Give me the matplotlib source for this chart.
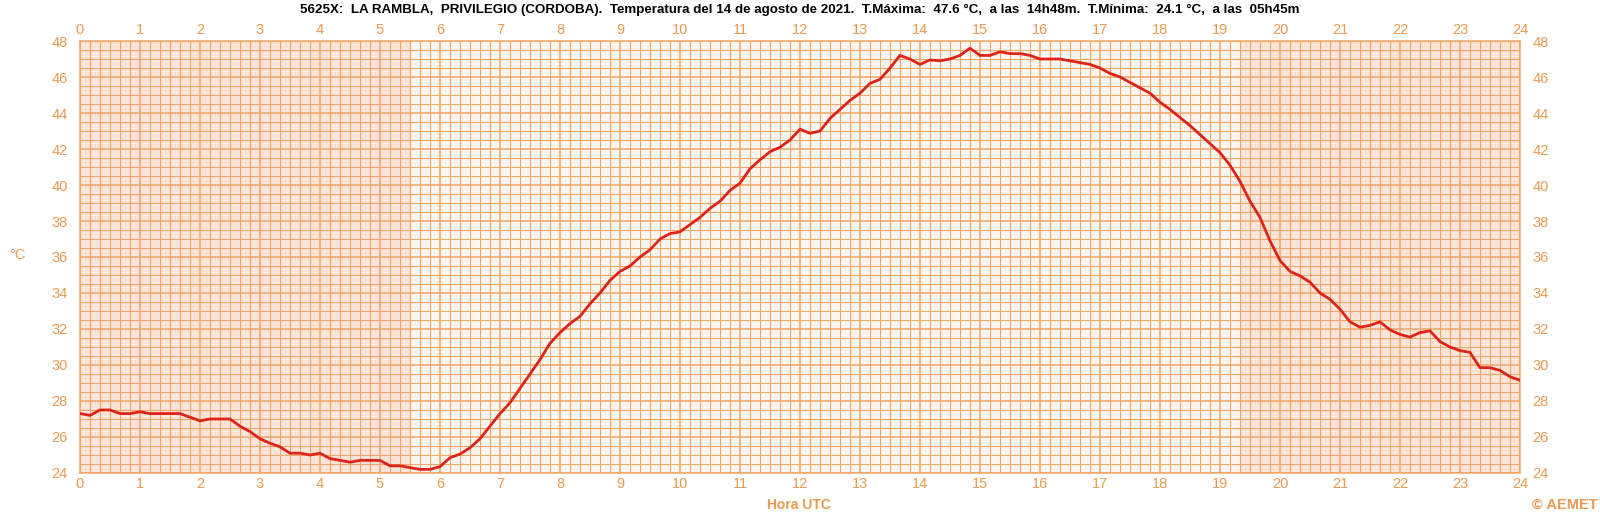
"""Temperatura diaria AEMET - 5625X La Rambla"""

import numpy as np
import matplotlib
matplotlib.use("Agg")
import matplotlib.pyplot as plt
from matplotlib.ticker import MultipleLocator

plt.rcParams['font.family'] = ['Liberation Sans', 'DejaVu Sans']

# 10-minute temperatures, 00:00 .. 24:00 UTC
temps = [
    27.3, 27.2, 27.5, 27.5, 27.3, 27.3,
    27.4, 27.3, 27.3, 27.3, 27.3, 27.1,
    26.9, 27.0, 27.0, 27.0, 26.6, 26.3,
    25.9, 25.65, 25.45, 25.1, 25.1, 25.0,
    25.1, 24.8, 24.7, 24.6, 24.7, 24.7,
    24.7, 24.4, 24.4, 24.3, 24.2, 24.2,
    24.35, 24.85, 25.05, 25.4, 25.9, 26.6,
    27.3, 27.9, 28.7, 29.5, 30.3, 31.2,
    31.8, 32.3, 32.7, 33.4, 34.0, 34.7,
    35.2, 35.5, 36.0, 36.4, 37.0, 37.3,
    37.4, 37.8, 38.2, 38.7, 39.1, 39.7,
    40.1, 40.9, 41.4, 41.85, 42.1, 42.5,
    43.1, 42.87, 43.0, 43.7, 44.2, 44.7,
    45.1, 45.65, 45.87, 46.5, 47.2, 47.0,
    46.7, 46.95, 46.9, 47.0, 47.2, 47.6,
    47.2, 47.2, 47.4, 47.3, 47.3, 47.2,
    47.0, 47.0, 47.0, 46.9, 46.8, 46.7,
    46.5, 46.2, 46.0, 45.7, 45.4, 45.1,
    44.6, 44.2, 43.75, 43.3, 42.8, 42.3,
    41.8, 41.1, 40.2, 39.1, 38.2, 36.9,
    35.8, 35.2, 34.95, 34.6, 34.0, 33.65,
    33.1, 32.4, 32.1, 32.2, 32.4, 31.95,
    31.7, 31.55, 31.8, 31.9, 31.3, 31.0,
    30.8, 30.7, 29.85, 29.85, 29.7, 29.35,
    29.15,
]
hours = np.arange(len(temps)) / 6.0

# night periods (before sunrise / after sunset), hours UTC
night_spans = [(0, 5.5), (19.35, 24)]

title = ("5625X:  LA RAMBLA,  PRIVILEGIO (CORDOBA).  Temperatura del 14 de agosto de 2021.  "
         "T.Máxima:  47.6 °C,  a las  14h48m.  T.Mínima:  24.1 °C,  a las  05h45m")

grid_col = '#f0a667'
label_col = '#e89a52'

fig = plt.figure(figsize=(16, 5.14), dpi=100)
ax = fig.add_axes([0.05, 0.0798, 0.90, 0.8404])
ax.set_facecolor('#fdf5ef')
for a, b in night_spans:
    ax.axvspan(a, b, color='#fbe3d7', zorder=0, lw=0)

ax.set_xlim(0, 24)
ax.set_ylim(24, 48)
ax.xaxis.set_major_locator(MultipleLocator(1))
ax.xaxis.set_minor_locator(MultipleLocator(1 / 6))
ax.yaxis.set_major_locator(MultipleLocator(2))
ax.yaxis.set_minor_locator(MultipleLocator(0.5))

ax.grid(which='major', color=grid_col, lw=1.1, zorder=1)
ax.grid(which='minor', color=grid_col, lw=0.75, zorder=1)
ax.set_axisbelow(True)

ax.tick_params(which='both', length=0)
ax.tick_params(axis='x', labeltop=True, labelbottom=True, labelsize=10.5,
               labelcolor=label_col, pad=3)
ax.tick_params(axis='y', labelleft=True, labelright=True, labelsize=10.5,
               labelcolor=label_col, pad=9)
for s in ax.spines.values():
    s.set_color(grid_col)
    s.set_linewidth(1.1)

ax.plot(hours, temps, color='#dc2418', lw=2.0, zorder=3)

fig.text(0.5, 0.980, title, ha='center', va='center', fontsize=9.6, fontweight='bold')
fig.text(0.006, 0.504, '°C', ha='left', va='center', fontsize=10.5, color=label_col)
fig.text(0.499, 0.018, 'Hora UTC', ha='center', va='center', fontsize=10,
         fontweight='bold', color=label_col)
fig.text(0.978, 0.018, '© AEMET', ha='center', va='center', fontsize=10.5,
         fontweight='bold', color=label_col)

fig.savefig('out.png', dpi=100)
